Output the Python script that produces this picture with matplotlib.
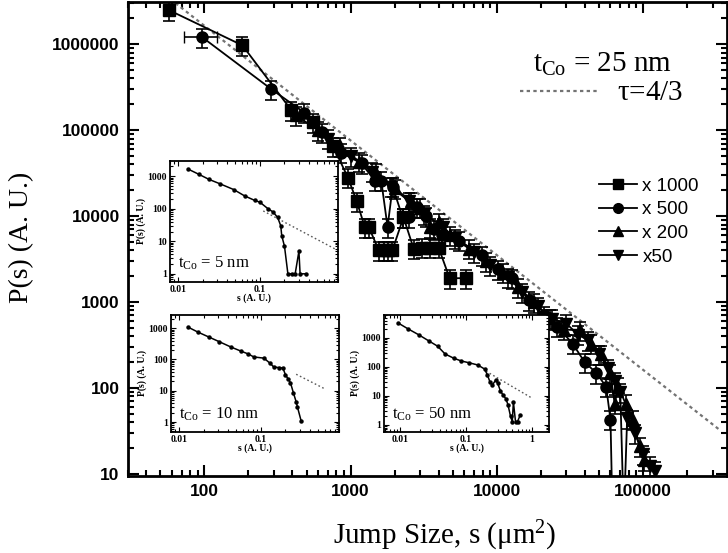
import matplotlib
matplotlib.use("Agg")
import numpy as np
import matplotlib.pyplot as plt
from matplotlib.lines import Line2D
from matplotlib.ticker import LogLocator, NullFormatter, FixedLocator, FixedFormatter

plt.rcParams['mathtext.fontset'] = 'custom'
plt.rcParams['mathtext.rm'] = 'Liberation Serif'
plt.rcParams['mathtext.it'] = 'Liberation Serif:italic'
plt.rcParams['mathtext.sf'] = 'Liberation Sans'

# ---------------- main data ----------------
s_x1000 = [57, 182, 394, 550, 760, 960, 1100, 1250, 1330, 1560, 1680, 1800, 1930,
           2300, 2700, 3100, 3500, 4000, 4760, 6200]
p_x1000 = [2.5e6, 9.7e5, 1.7e5, 1.25e5, 6.5e4, 2.8e4, 1.5e4, 7.5e3, 7.5e3, 4.0e3, 4.0e3,
           4.0e3, 4.0e3, 9.7e3, 4.2e3, 4.3e3, 4.3e3, 4.3e3, 1.9e3, 1.9e3]

s_x500 = [97, 287, 483, 640, 860, 1190, 1460, 1620, 1790, 1940, 2270, 2500, 2860, 3300,
          3700, 4200, 5560, 7900, 10200, 12700, 16700, 21000, 26000, 33000, 40000, 48000,
          56000, 60000, 62000]
p_x500 = [1.2e6, 3.0e5, 1.6e5, 9.5e4, 5.5e4, 4.1e4, 2.6e4, 2.6e4, 7.5e3, 2.2e4, 9.7e3,
          9.7e3, 1.27e4, 1.0e4, 7.0e3, 6.0e3, 5.2e3, 3.5e3, 2.4e3, 1.9e3, 1.05e3, 700, 520,
          330, 200, 150, 104, 43, 3]

s_x200 = [420, 600, 850, 1150, 1500, 2000, 2600, 3000, 3500, 4000, 4800, 6500, 8500,
          11000, 14000, 18000, 23000, 29000, 37000, 44000, 52000, 60000, 64000, 68000,
          76000, 85000, 95000, 102000]
p_x200 = [1.5e5, 1.0e5, 6.5e4, 4.3e4, 3.2e4, 2.1e4, 1.5e4, 1.26e4, 7.5e3, 8.5e3, 6.0e3,
          4.2e3, 3.0e3, 2.2e3, 1.5e3, 1.0e3, 650, 480, 470, 330, 250, 150, 66, 104, 66, 43,
          21, 14.5]

s_x50 = [700, 1000, 1400, 1900, 2500, 3200, 4300, 5200, 7000, 9000, 12000, 15000, 19000,
         24000, 30000, 36000, 42000, 50000, 58000, 64000, 70000, 74000, 78000, 88000,
         100000, 112000, 120000]
p_x50 = [8e4, 5e4, 3.3e4, 2.2e4, 1.5e4, 1.05e4, 7.5e3, 5.5e3, 3.8e3, 2.7e3, 1.95e3,
         1.3e3, 900, 640, 560, 420, 360, 250, 170, 120, 90, 3, 45, 30, 17, 12.5, 11]

err_frac = 0.25            # relative error bar size
x500_first_xerr = 0.25     # horizontal error on first x500 point

tau = 4.0 / 3.0
fit_amp = 7.6e8
fit_range = [57, 330000]

series_labels = ["x 1000", "x 500", "x 200", "x50"]
series_markers = ["s", "o", "^", "v"]

# ---------------- inset data ----------------
s5 = [0.0134, 0.018, 0.024, 0.033, 0.048, 0.065, 0.087, 0.1, 0.126, 0.145, 0.165, 0.18,
      0.185, 0.2, 0.22, 0.25, 0.27, 0.3, 0.31, 0.37]
p5 = [1650, 1150, 800, 580, 390, 250, 180, 160, 100, 80, 54, 30, 15, 7, 1, 1, 1, 5, 1, 1]

s10 = [0.0129, 0.017, 0.0232, 0.031, 0.043, 0.057, 0.07, 0.082, 0.109, 0.13, 0.144, 0.165,
       0.186, 0.2, 0.215, 0.23, 0.25, 0.27, 0.28, 0.31]
p10 = [1080, 750, 520, 370, 250, 185, 150, 120, 110, 75, 57, 55, 53, 32, 24, 18, 8.5, 4.4,
       3, 1.1]

s50 = [0.0093, 0.013, 0.019, 0.027, 0.037, 0.048, 0.065, 0.085, 0.11, 0.15, 0.19, 0.21,
       0.23, 0.25, 0.28, 0.3, 0.33, 0.36, 0.4, 0.43, 0.47, 0.5, 0.52, 0.56, 0.6, 0.66]
p50 = [3300, 2100, 1300, 800, 520, 280, 200, 160, 140, 117, 85, 53, 30, 24, 35, 28, 15, 11,
       8, 5, 2, 1.3, 6.2, 1.3, 1.3, 2.2]

inset_fit_anchor = [(0.165, 50), (0.28, 32), (0.25, 53)]
inset_fit_range = [(0.11, 0.85), (0.27, 0.6), (0.2, 0.95)]
inset_labels = [r"$\mathregular{t_{Co}}$ = 5 nm", r"$\mathregular{t_{Co}}$ = 10 nm",
                r"$\mathregular{t_{Co}}$ = 50 nm"]

# ---------------- figure ----------------
W, H = 728, 553
fig = plt.figure(figsize=(W / 100, H / 100), dpi=100)

def fig_rect(x0, y0, x1, y1):
    return [x0 / W, 1 - y1 / H, (x1 - x0) / W, (y1 - y0) / H]

ax = fig.add_axes(fig_rect(128, 2, 727, 476))
ax.set_xscale('log')
ax.set_yscale('log')
ax.set_xlim(30, 376000)
ax.set_ylim(9.5, 3.1e6)

# fit line
fs = np.logspace(np.log10(fit_range[0]), np.log10(fit_range[1]), 200)
ax.plot(fs, fit_amp * fs ** (-tau), color='0.45', lw=1.6, ls=(0, (1.5, 1.5)), zorder=2)

all_s = [s_x1000, s_x500, s_x200, s_x50]
all_p = [p_x1000, p_x500, p_x200, p_x50]
for s, p, m in zip(all_s, all_p, series_markers):
    s = np.array(s, float)
    p = np.array(p, float)
    ax.errorbar(s, p, yerr=[p * err_frac, p * err_frac], fmt='-', marker=m, color='k',
                ms=8, lw=1.3, elinewidth=1.2, capsize=4, capthick=1.2, zorder=3)
# horizontal error bar on first x500 point
ax.errorbar([s_x500[0]], [p_x500[0]], xerr=[[s_x500[0] * x500_first_xerr], [s_x500[0] * x500_first_xerr]],
            fmt='none', ecolor='k', elinewidth=1.2, capsize=4, zorder=3)

for sp in ax.spines.values():
    sp.set_linewidth(2)
ax.tick_params(which='both', direction='in', top=True, right=True, width=1.5)
ax.tick_params(which='major', length=8, labelsize=12.5, pad=6)
ax.tick_params(which='minor', length=4)
ax.xaxis.set_major_locator(FixedLocator([100, 1000, 10000, 100000]))
ax.xaxis.set_major_formatter(FixedFormatter(["100", "1000", "10000", "100000"]))
ax.yaxis.set_major_locator(FixedLocator([10, 100, 1000, 10000, 100000, 1000000]))
ax.yaxis.set_major_formatter(FixedFormatter(["10", "100", "1000", "10000", "100000", "1000000"]))
ax.xaxis.set_minor_locator(LogLocator(base=10, subs=np.arange(2, 10), numticks=20))
ax.yaxis.set_minor_locator(LogLocator(base=10, subs=np.arange(2, 10), numticks=20))
ax.xaxis.set_minor_formatter(NullFormatter())
ax.yaxis.set_minor_formatter(NullFormatter())
for lab in ax.get_xticklabels() + ax.get_yticklabels():
    lab.set_family('Liberation Sans')
    lab.set_weight('bold')

fig.text(445 / W, 1 - 536 / H, r"Jump Size, s ($\mathregular{\mu m^2}$)", family='Liberation Serif',
         fontsize=21, ha='center', va='center')
fig.text(22 / W, 1 - 237 / H, "P(s) (A. U.)", family='Liberation Serif', fontsize=20,
         rotation=90, ha='center', va='center')

# annotation
fig.text(533 / W, 1 - 72 / H, r"$\mathregular{t_{Co}}$ = 25 nm", family='Liberation Serif',
         fontsize=21, ha='left', va='baseline')
fig.text(617 / W, 1 - 100 / H, r"$\mathregular{\tau}$=4/3", family='Liberation Serif',
         fontsize=21, ha='left', va='baseline')
fig.add_artist(Line2D([520 / W, 598 / W], [1 - 91 / H, 1 - 91 / H], color='0.45', lw=1.6,
                      ls=(0, (1.5, 1.5)), transform=fig.transFigure))

# legend
handles = [Line2D([], [], color='k', marker=m, lw=1.3, ms=7) for m in series_markers]
leg = fig.legend(handles, series_labels, loc='upper left', bbox_to_anchor=(590 / W, 1 - 168 / H),
                 bbox_transform=fig.transFigure, frameon=False, handlelength=2.0,
                 handletextpad=0.3, labelspacing=0.35, borderpad=0,
                 prop={'family': 'Liberation Sans', 'size': 13.5})

# ---------------- insets ----------------
inset_rects = [fig_rect(170, 161, 338, 282), fig_rect(171, 315, 339, 432), fig_rect(384, 315, 549, 432)]
inset_xlim = [(0.008, 0.9), (0.008, 0.9), (0.0057, 1.8)]
inset_ylim = [(0.56, 2950), (0.48, 2630), (0.57, 6200)]
inset_xticks = [([0.01, 0.1], ["0.01", "0.1"]), ([0.01, 0.1], ["0.01", "0.1"]),
                ([0.01, 0.1, 1], ["0.01", "0.1", "1"])]
inset_s = [s5, s10, s50]
inset_p = [p5, p10, p50]

for i in range(3):
    ia = fig.add_axes(inset_rects[i])
    ia.set_xscale('log')
    ia.set_yscale('log')
    ia.set_xlim(*inset_xlim[i])
    ia.set_ylim(*inset_ylim[i])
    a_s, a_p = inset_fit_anchor[i]
    lo, hi = inset_fit_range[i]
    xs = np.logspace(np.log10(lo), np.log10(hi), 50)
    ia.plot(xs, a_p * (xs / a_s) ** (-tau), color='0.35', lw=1.0, ls=(0, (1.2, 1.8)))
    ia.plot(inset_s[i], inset_p[i], '-', color='k', marker='o', ms=2.2, lw=1.1)
    for sp in ia.spines.values():
        sp.set_linewidth(1.3)
    ia.tick_params(which='both', direction='in', top=True, right=True, width=0.8)
    ia.tick_params(which='major', length=3.5, labelsize=7, pad=2)
    ia.tick_params(which='minor', length=2)
    ia.xaxis.set_major_locator(FixedLocator(inset_xticks[i][0]))
    ia.xaxis.set_major_formatter(FixedFormatter(inset_xticks[i][1]))
    ia.yaxis.set_major_locator(FixedLocator([1, 10, 100, 1000]))
    ia.yaxis.set_major_formatter(FixedFormatter(["1", "10", "100", "1000"]))
    ia.xaxis.set_minor_locator(LogLocator(base=10, subs=np.arange(2, 10), numticks=20))
    ia.yaxis.set_minor_locator(LogLocator(base=10, subs=np.arange(2, 10), numticks=20))
    ia.xaxis.set_minor_formatter(NullFormatter())
    ia.yaxis.set_minor_formatter(NullFormatter())
    for lab in ia.get_xticklabels() + ia.get_yticklabels():
        lab.set_family('Liberation Serif')
        lab.set_weight('bold')
    ia.set_xlabel("s (A. U.)", family='Liberation Serif', fontsize=7, weight='bold', labelpad=0)
    ia.set_ylabel("P(s) (A. U.)", family='Liberation Serif', fontsize=7, weight='bold', labelpad=1)
    ia.text(0.05, 0.08, inset_labels[i], transform=ia.transAxes, family='Liberation Serif',
            fontsize=12, ha='left', va='bottom')

fig.savefig("out.png", dpi=100)
